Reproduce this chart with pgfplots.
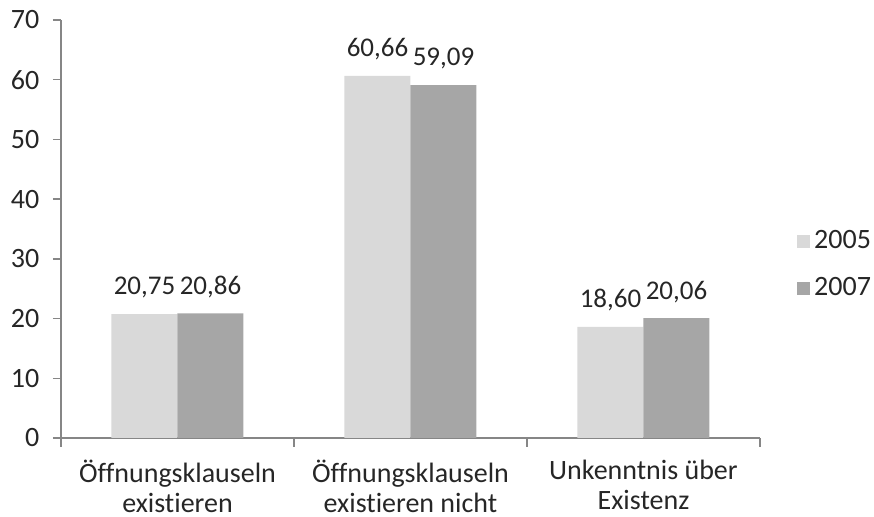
\documentclass[border=0pt]{standalone}
\usepackage{pgfplots}
\pgfplotsset{compat=1.18}
\usepackage{fontspec}
\setmainfont[Ligatures=NoCommon]{Carlito}
\definecolor{bar05}{HTML}{D9D9D9}
\definecolor{bar07}{HTML}{A6A6A6}
\definecolor{axisgray}{HTML}{868686}
\definecolor{txt}{HTML}{262626}
\begin{document}
\fontsize{14pt}{15pt}\selectfont
\begin{tikzpicture}
\begin{axis}[
    at={(0,0)}, anchor=south west,
    scale only axis,
    width=349.5pt,
    height=209pt,
    ybar=0pt,
    bar width=33pt,
    ymin=0, ymax=70,
    ytick={0,10,...,70},
    xmin=-0.5, xmax=2.5,
    xtick={0,1,2},
    xticklabels={Öffnungsklauseln\\existieren, Öffnungsklauseln\\existieren nicht, Unkenntnis über\\Existenz},
    xticklabel style={align=center, text=txt, yshift=-2pt},
    yticklabel style={text=txt, xshift=-2pt},
    minor xtick={-0.5,0.5,1.5,2.5},
    major x tick style={draw=none},
    tick align=outside,
    tick style={axisgray, line width=0.75pt},
    minor tick length=4.5pt,
    major tick length=4pt,
    axis x line*=bottom,
    axis y line*=left,
    axis line style={axisgray, line width=0.75pt, -},
    /pgf/number format/assume math mode=true,
    nodes near coords,
    nodes near coords style={text=txt, yshift=3pt, font=\fontsize{13.5pt}{15pt}\selectfont,
        /pgf/number format/.cd, fixed, fixed zerofill, precision=2, use comma},
    legend style={draw=none, at={(1.053,0.414)}, anchor=west, row sep=8pt,
        font=\fontsize{14pt}{15pt}\selectfont, text=txt, inner sep=0pt},
    legend cell align=left,
    legend image code/.code={\fill[#1] (0pt,-3.2pt) rectangle (6.4pt,3.2pt);},
]
\addplot[fill=bar05, draw=none] coordinates {(0,20.75) (1,60.66) (2,18.60)};
\addplot[fill=bar07, draw=none] coordinates {(0,20.86) (1,59.09) (2,20.06)};
\legend{2005,2007}
\end{axis}
\pgfresetboundingbox
\useasboundingbox (-30.5pt,-39.5pt) rectangle (406.5pt,219pt);
\end{tikzpicture}
\end{document}
